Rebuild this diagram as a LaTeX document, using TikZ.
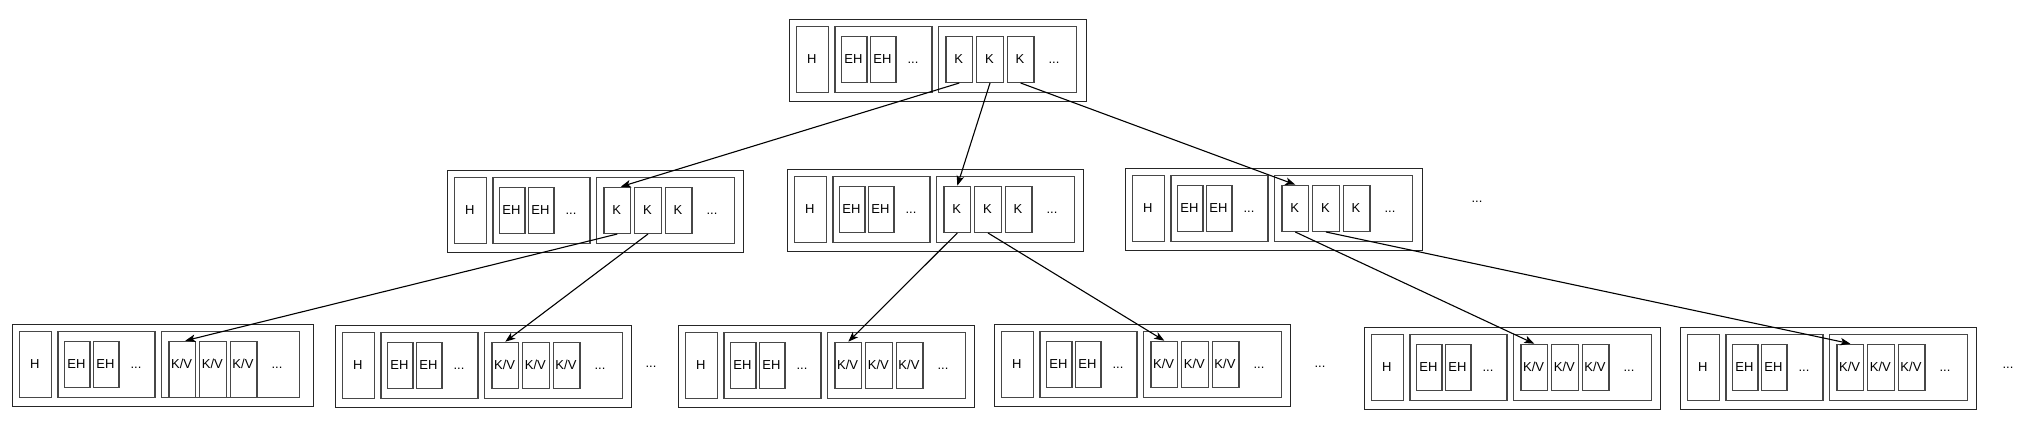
\documentclass[tikz,border=0pt]{standalone}
\usepackage{fontspec}
\setmainfont{Liberation Sans}
\usetikzlibrary{arrows.meta}
\tikzset{
  box/.style={draw=black!72, line width=1.3pt, fill=white, inner sep=0pt, anchor=north west},
  outerbox/.style={draw=black!85, line width=1.3pt, inner sep=0pt, anchor=north west},
  txt/.style={font=\fontsize{13}{15}\selectfont, inner sep=0pt, text height=9.3pt, text depth=0pt},
  link/.style={draw=black, line width=1.1pt, -{Stealth[length=10pt,width=7.5pt,inset=2.5pt]}}
}
% #1 name, #2 left, #3 top, #4 item label, #5 item height, #6 outer width
\newcommand\bpage[6]{%
\begin{scope}[shift={(#2,#3)}]
  \node[outerbox, minimum width=#6pt, minimum height=82pt] (#1) at (0,0) {};
  \node[box, minimum width=31.5pt, minimum height=66pt] (#1h) at (7,7) {};
  \node[txt] (#1ht) at (22.75,39.7) {H};
  \node[box, minimum width=97pt, minimum height=66pt] (#1eg) at (45.3,7) {};
  \node[box, minimum width=25.6pt, minimum height=46pt] (#1e1) at (51.7,16.7) {};
  \node[txt] (#1e1t) at (64.5,39.7) {EH};
  \node[box, minimum width=25.6pt, minimum height=46pt] (#1e2) at (80.7,16.7) {};
  \node[txt] (#1e2t) at (93.5,39.7) {EH};
  \node[txt] (#1ed) at (124,39.7) {...};
  \node[box, minimum width=138.5pt, minimum height=66pt] (#1kg) at (148.5,7) {};
  \node[box, minimum width=26.7pt, minimum height=#5pt] (#1k1) at (156.3,16.7) {};
  \node[txt] (#1k1t) at (169.65,39.7) {#4};
  \node[box, minimum width=26.7pt, minimum height=#5pt] (#1k2) at (187,16.7) {};
  \node[txt] (#1k2t) at (200.35,39.7) {#4};
  \node[box, minimum width=26.7pt, minimum height=#5pt] (#1k3) at (217.6,16.7) {};
  \node[txt] (#1k3t) at (230.95,39.7) {#4};
  \node[txt] (#1kd) at (265,39.7) {...};
\end{scope}}
\begin{document}
\begin{tikzpicture}[x=1pt,y=-1pt]
\useasboundingbox (0,0) rectangle (2024,422);
% top
\bpage{t}{789}{19}{K}{46}{296.5}
% middle
\bpage{ma}{447}{170}{K}{46}{296}
\bpage{mb}{787}{169}{K}{46}{296}
\bpage{mc}{1125}{168}{K}{46}{296.5}
\node[txt] (dm) at (1477,198) {...};
% bottom
\bpage{ba}{12}{324}{K/V}{56}{301}
\bpage{bb}{335}{325}{K/V}{46}{296}
\node[txt] (d1) at (651,363) {...};
\bpage{bc}{678}{325}{K/V}{46}{295.5}
\bpage{bd}{994}{324}{K/V}{46}{296}
\node[txt] (d2) at (1320,363) {...};
\bpage{be}{1364}{327}{K/V}{46}{296}
\bpage{bf}{1680}{327}{K/V}{46}{296}
\node[txt] (d3) at (2008,364) {...};
% links
\draw[link] (tk1.south) -- ([xshift=3.5pt]mak1.north);
\draw[link] (tk2.south) -- (mbk1.north);
\draw[link] (tk3.south) -- (mck1.north);
\draw[link] (mak1.south) -- ([xshift=3pt]bak1.north);
\draw[link] (mak2.south) -- (bbk1.north);
\draw[link] (mbk1.south) -- (bck1.north);
\draw[link] (mbk2.south) -- (bdk1.north);
\draw[link] (mck1.south) -- (bek1.north);
\draw[link] (mck2.south) -- (bfk1.north);
\end{tikzpicture}
\end{document}
